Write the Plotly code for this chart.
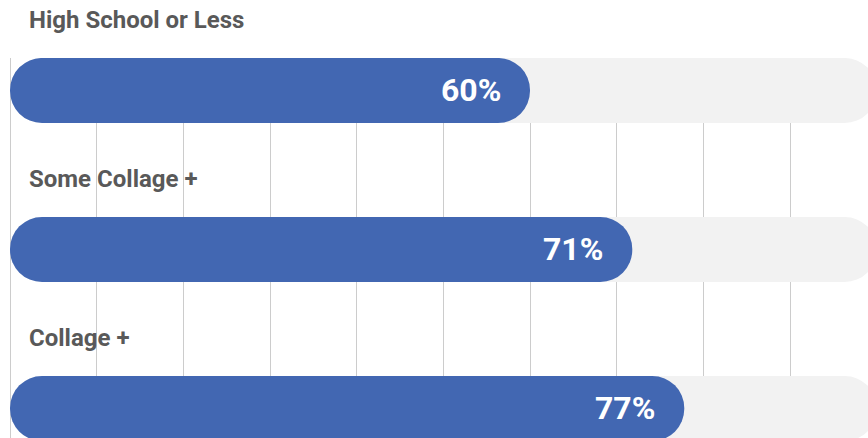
import plotly.graph_objects as go

categories = ["High School or Less", "Some Collage +", "Collage +"]
values = [60.0, 71.8, 77.8]
value_labels = ["60%", "71%", "77%"]
track_max = 100

BLUE = "#4267b2"
TRACK = "#f2f2f2"
LABEL = "#595959"
GRID = "#cccccc"

ypos = list(range(len(categories)))
bar_w = 0.409

fig = go.Figure()

def rounded_bar(vals, color):
    # a bar with an explicit base is rounded on both ends
    fig.add_trace(go.Bar(
        y=ypos, x=vals, base=[0] * len(vals),
        orientation="h", width=bar_w,
        marker=dict(color=color, opacity=1, cornerradius="50%", line=dict(width=0)),
        hoverinfo="skip", showlegend=False))

rounded_bar([track_max] * len(values), TRACK)
rounded_bar(values, BLUE)

annotations = []
for i, (cat, v, lab) in enumerate(zip(categories, values, value_labels)):
    annotations.append(dict(
        x=0, y=i, xref="x", yref="y", text=cat, showarrow=False,
        xanchor="left", yanchor="middle", xshift=17, yshift=71,
        font=dict(family="Roboto", size=24, color=LABEL, weight="bold")))
    annotations.append(dict(
        x=v, y=i, xref="x", yref="y", text=lab, showarrow=False,
        xanchor="right", yanchor="middle", xshift=-27, yshift=1,
        font=dict(family="Roboto", size=32, color="white", weight="bold")))

fig.update_layout(
    width=868, height=438,
    margin=dict(l=10, r=0, t=58, b=0),
    barmode="overlay",
    paper_bgcolor="white", plot_bgcolor="white",
    xaxis=dict(range=[0, 99], dtick=10, tick0=0, showticklabels=False,
               showgrid=True, gridcolor=GRID, gridwidth=1,
               zeroline=True, zerolinecolor=GRID, zerolinewidth=1,
               showline=False, ticks="", fixedrange=True),
    yaxis=dict(range=[2.1855, -0.2044], showticklabels=False, showgrid=False,
               zeroline=False, showline=False, ticks="", fixedrange=True),
    annotations=annotations,
    font=dict(family="Roboto"),
)

fig.write_html("out.html", config={"displayModeBar": False})
